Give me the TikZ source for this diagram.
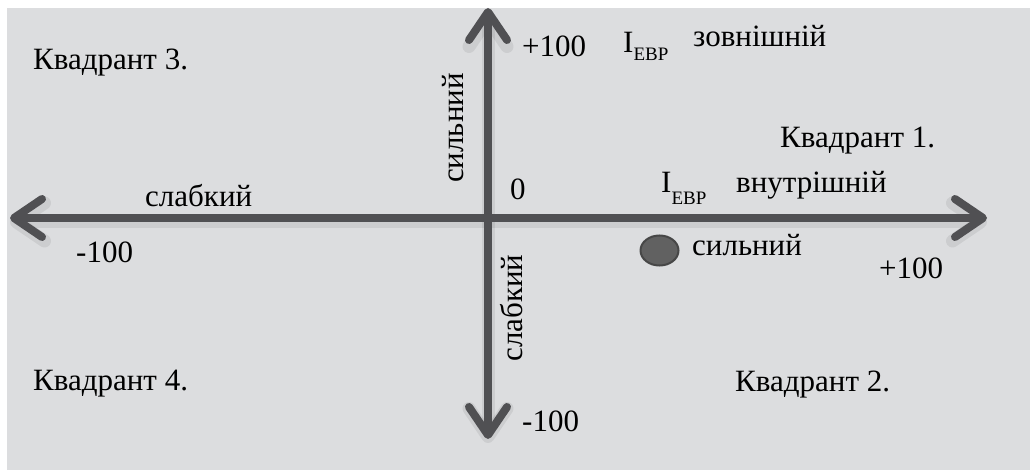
\documentclass[tikz,border=0pt]{standalone}
\usepackage{fontspec}
\setmainfont{Liberation Serif}
\newfontfamily\tnr{Liberation Serif}
\usetikzlibrary{arrows.meta,shapes.geometric}
\definecolor{bg}{HTML}{DCDDDF}
\definecolor{axis}{HTML}{505053}
\begin{document}
\begin{tikzpicture}[x=1pt,y=-1pt,
  tipstyle/.style={-{Straight Barb[length=28pt,width=38pt,round]}},
  axisline/.style={draw=axis,line width=8pt,tipstyle},
  shadowline/.style={draw=black,opacity=0.07,line width=13pt,tipstyle},
  lbl/.style={font=\tnr\fontsize{31}{34}\selectfont,inner sep=0pt,text=black,anchor=base west},
  vlbl/.style={font=\tnr\fontsize{31}{34}\selectfont,inner sep=0pt,text=black,rotate=90,anchor=base}]
\newcommand{\subs}[2][12pt]{\raisebox{-#1}{\fontsize{19}{20}\selectfont #2}}
\useasboundingbox (0,0) rectangle (1030,470);
\fill[bg] (7,8) rectangle (1030,470);
\coordinate (W) at (10,218);
\coordinate (E) at (987,218);
\coordinate (N) at (488,8);
\coordinate (S) at (488,439);
\coordinate (O) at (488,218);
% soft shadow
\begin{scope}[transform canvas={yshift=-4pt}]
\draw[shadowline] (O) -- (W);
\draw[shadowline] (O) -- (E);
\draw[shadowline] (O) -- (N);
\draw[shadowline] (O) -- (S);
\end{scope}
% axes
\draw[axisline] (O) -- (W);
\draw[axisline] (O) -- (E);
\draw[axisline] (O) -- (N);
\draw[axisline] (O) -- (S);
% labels
\node[lbl] (q3) at (33,70) {Квадрант 3.};
\node[lbl] (p100t) at (522,57) {+100};
\node[lbl] (iext) at (623,53) {I\subs[8pt]{ЕВР}};
\node[lbl] (ext) at (693,47) {зовнішній};
\node[vlbl] (strong1) at (463,128) {сильний};
\node[lbl] (q1) at (780,148) {Квадрант 1.};
\node[lbl] (zero) at (510,200) {0};
\node[lbl] (iint) at (661,193) {I\subs{ЕВР}};
\node[lbl] (int) at (736,193) {внутрішній};
\node[lbl] (weak1) at (145,207) {слабкий};
\node[lbl] (m100l) at (76,262) {-100};
\node[draw=black!72,fill=black!62,line width=2pt,ellipse,minimum width=38pt,minimum height=30pt,inner sep=0pt] (dot) at (659.5,250.5) {};
\node[lbl] (strong2) at (692,255) {сильний};
\node[lbl] (p100r) at (879,279) {+100};
\node[vlbl] (weak2) at (522,308) {слабкий};
\node[lbl] (q4) at (33,390) {Квадрант 4.};
\node[lbl] (q2) at (735,391) {Квадрант 2.};
\node[lbl] (m100b) at (522,431) {-100};
\end{tikzpicture}
\end{document}
